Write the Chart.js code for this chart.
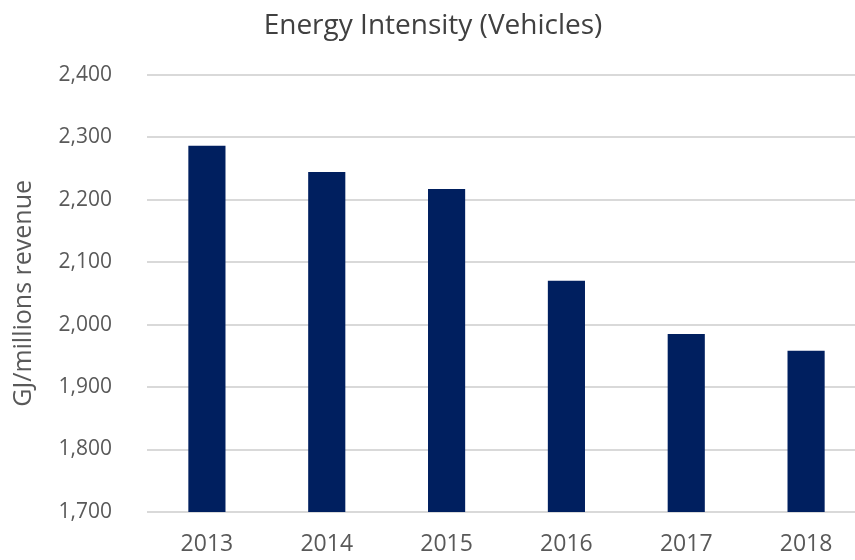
<!DOCTYPE html>
<html>
<head>
<meta charset="utf-8">
<script src="https://cdn.jsdelivr.net/npm/chart.js@4/dist/chart.umd.min.js"></script>
<style>
  html, body { margin: 0; padding: 0; background: #fff; overflow: hidden; }
  #wrap { width: 866px; height: 560px; }
</style>
</head>
<body>
<div id="wrap"><canvas id="energyChart"></canvas></div>
<script>
// Chart data
const years = ["2013", "2014", "2015", "2016", "2017", "2018"];
const intensity = [2286, 2244, 2217, 2070, 1985, 1958];
const yMin = 1700;
const yMax = 2400;
const yStep = 100;

const barColor = "#001F5F";
const textColor = "#595959";

function setup() {
  let ctx = document.getElementById("energyChart").getContext("2d");

  new Chart(ctx, {
    type: "bar",
    data: {
      labels: years,
      datasets: [{
        label: "Energy Intensity",
        data: intensity,
        backgroundColor: barColor,
        barPercentage: 0.31,
        categoryPercentage: 1
      }]
    },
    options: {
      responsive: true,
      maintainAspectRatio: false,
      animation: false,
      layout: { padding: { top: 9, left: 0, right: 0, bottom: 0 } },
      plugins: {
        legend: { display: false },
        tooltip: { enabled: false },
        title: {
          display: true,
          text: "Energy Intensity (Vehicles)",
          color: "#404040",
          font: { family: "'Open Sans'", size: 28, weight: "normal" },
          padding: { top: 0, bottom: 32 }
        }
      },
      scales: {
        x: {
          grid: { display: false, drawTicks: false },
          border: { display: false },
          ticks: {
            color: textColor,
            font: { family: "'Open Sans'", size: 23 },
            padding: 19
          },
          afterFit: (scale) => { scale.height = 48; }
        },
        y: {
          min: yMin,
          max: yMax,
          grid: { color: "#d9d9d9", lineWidth: 2, drawTicks: false },
          border: { display: false },
          ticks: {
            stepSize: yStep,
            color: textColor,
            font: { family: "'Open Sans'", size: 21 },
            padding: 35,
            callback: (v) => v.toLocaleString("en-US")
          },
          title: {
            display: true,
            text: "GJ/millions revenue",
            color: textColor,
            font: { family: "'Open Sans'", size: 25 },
            padding: { top: 9, bottom: 0 }
          },
          afterFit: (scale) => { scale.width = 147; }
        }
      }
    }
  });
}

window.addEventListener("DOMContentLoaded", setup);
</script>
</body>
</html>
